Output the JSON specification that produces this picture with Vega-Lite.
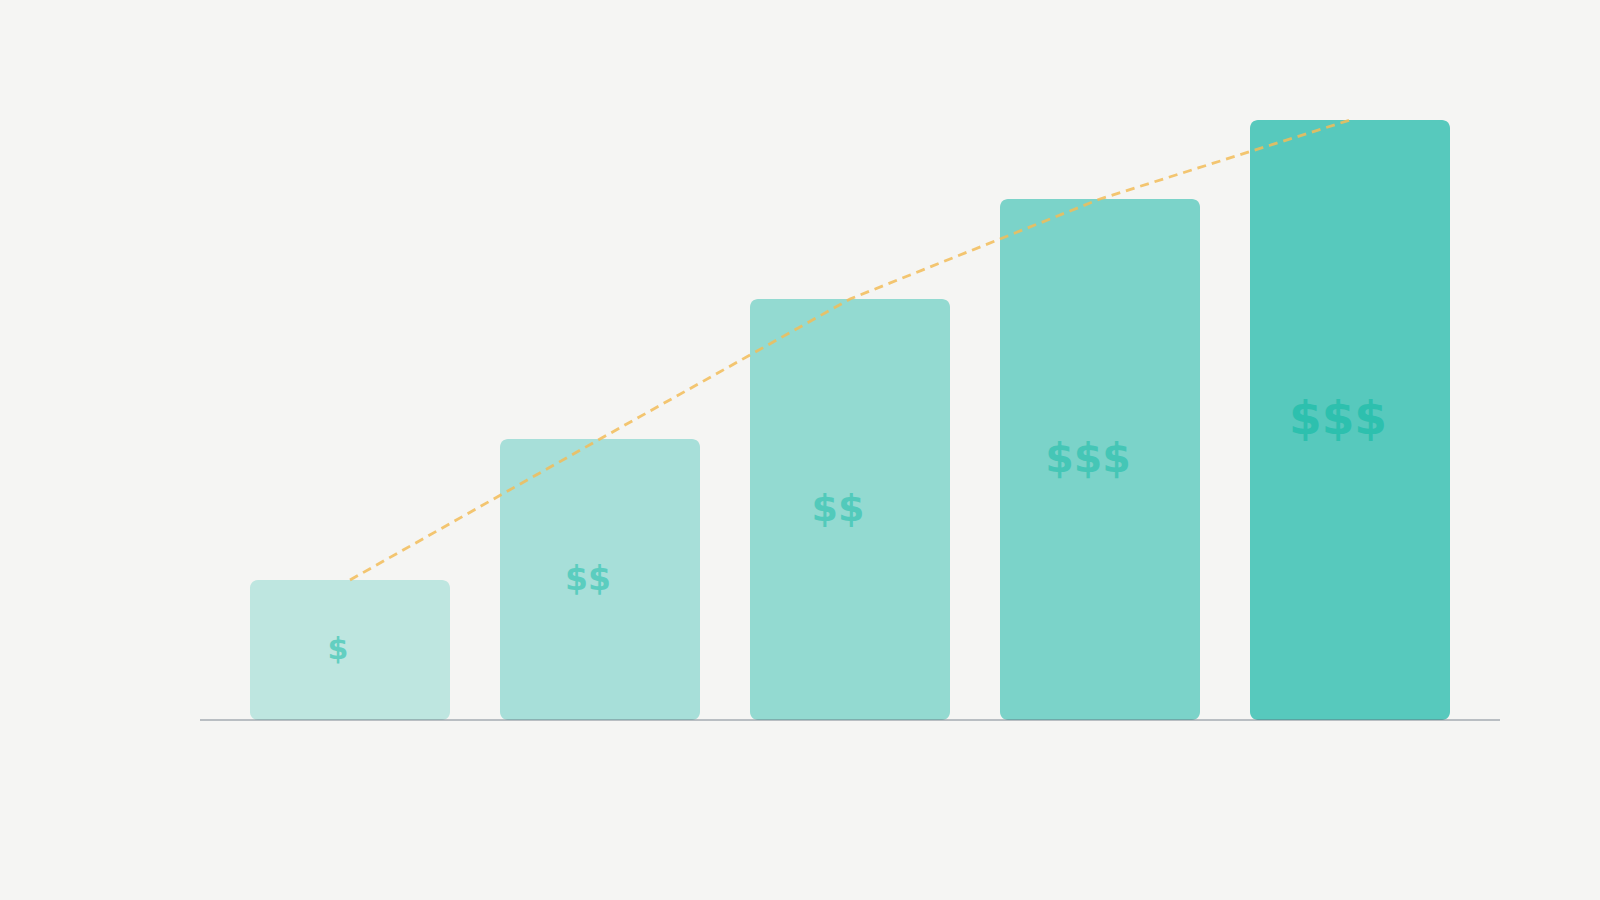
{
  "$schema": "https://vega.github.io/schema/vega-lite/v6.json",
  "width": 1300,
  "height": 600,
  "autosize": {"type": "none"},
  "padding": {"left": 200, "top": 120, "right": 100, "bottom": 180},
  "background": "#F5F5F3",
  "config": {"view": {"stroke": null}},
  "data": {
    "values": [
      {"tier": "t1", "label": "$", "value": 140},
      {"tier": "t2", "label": "$$", "value": 281},
      {"tier": "t3", "label": "$$", "value": 421},
      {"tier": "t4", "label": "$$$", "value": 521},
      {"tier": "t5", "label": "$$$", "value": 600}
    ]
  },
  "layer": [
    {
      "mark": {"type": "bar", "cornerRadius": 8},
      "encoding": {
        "x": {"field": "tier", "type": "nominal", "sort": null, "axis": null, "scale": {"paddingInner": 0.2, "paddingOuter": 0.2}},
        "y": {"field": "value", "type": "quantitative", "axis": null, "scale": {"domain": [0, 600], "nice": false}},
        "color": {"field": "tier", "type": "nominal", "legend": null, "scale": {"range": ["#BEE6E0", "#A7DFD9", "#93DAD1", "#7BD3C9", "#57C9BD"]}}
      }
    },
    {
      "mark": {"type": "line", "stroke": "#F2BC58", "strokeWidth": 2.8, "strokeDash": [9, 6], "opacity": 0.85},
      "encoding": {
        "x": {"field": "tier", "type": "nominal", "sort": null, "axis": null},
        "y": {"field": "value", "type": "quantitative", "axis": null}
      }
    },
    {
      "data": {"values": [{"base": 0}]},
      "mark": {"type": "rule", "color": "#5F6B78", "opacity": 0.4, "strokeWidth": 2},
      "encoding": {
        "y": {"field": "base", "type": "quantitative", "axis": null}
      }
    },
    {
      "transform": [{"calculate": "datum.value / 2", "as": "mid"}],
      "mark": {"type": "text", "font": "DejaVu Sans", "fontWeight": "bold", "align": "center", "baseline": "middle", "dx": -12},
      "encoding": {
        "x": {"field": "tier", "type": "nominal", "sort": null, "axis": null},
        "y": {"field": "mid", "type": "quantitative", "axis": null},
        "text": {"field": "label"},
        "fill": {"field": "tier", "type": "nominal", "legend": null, "scale": {"range": ["#63CFC1", "#5BCDBF", "#52CABB", "#45C6B6", "#2DC0AE"]}},
        "size": {"field": "tier", "type": "nominal", "legend": null, "scale": {"type": "ordinal", "range": [30, 33, 38, 41, 47]}}
      }
    }
  ],
  "resolve": {"scale": {"color": "independent", "fill": "independent"}}
}
